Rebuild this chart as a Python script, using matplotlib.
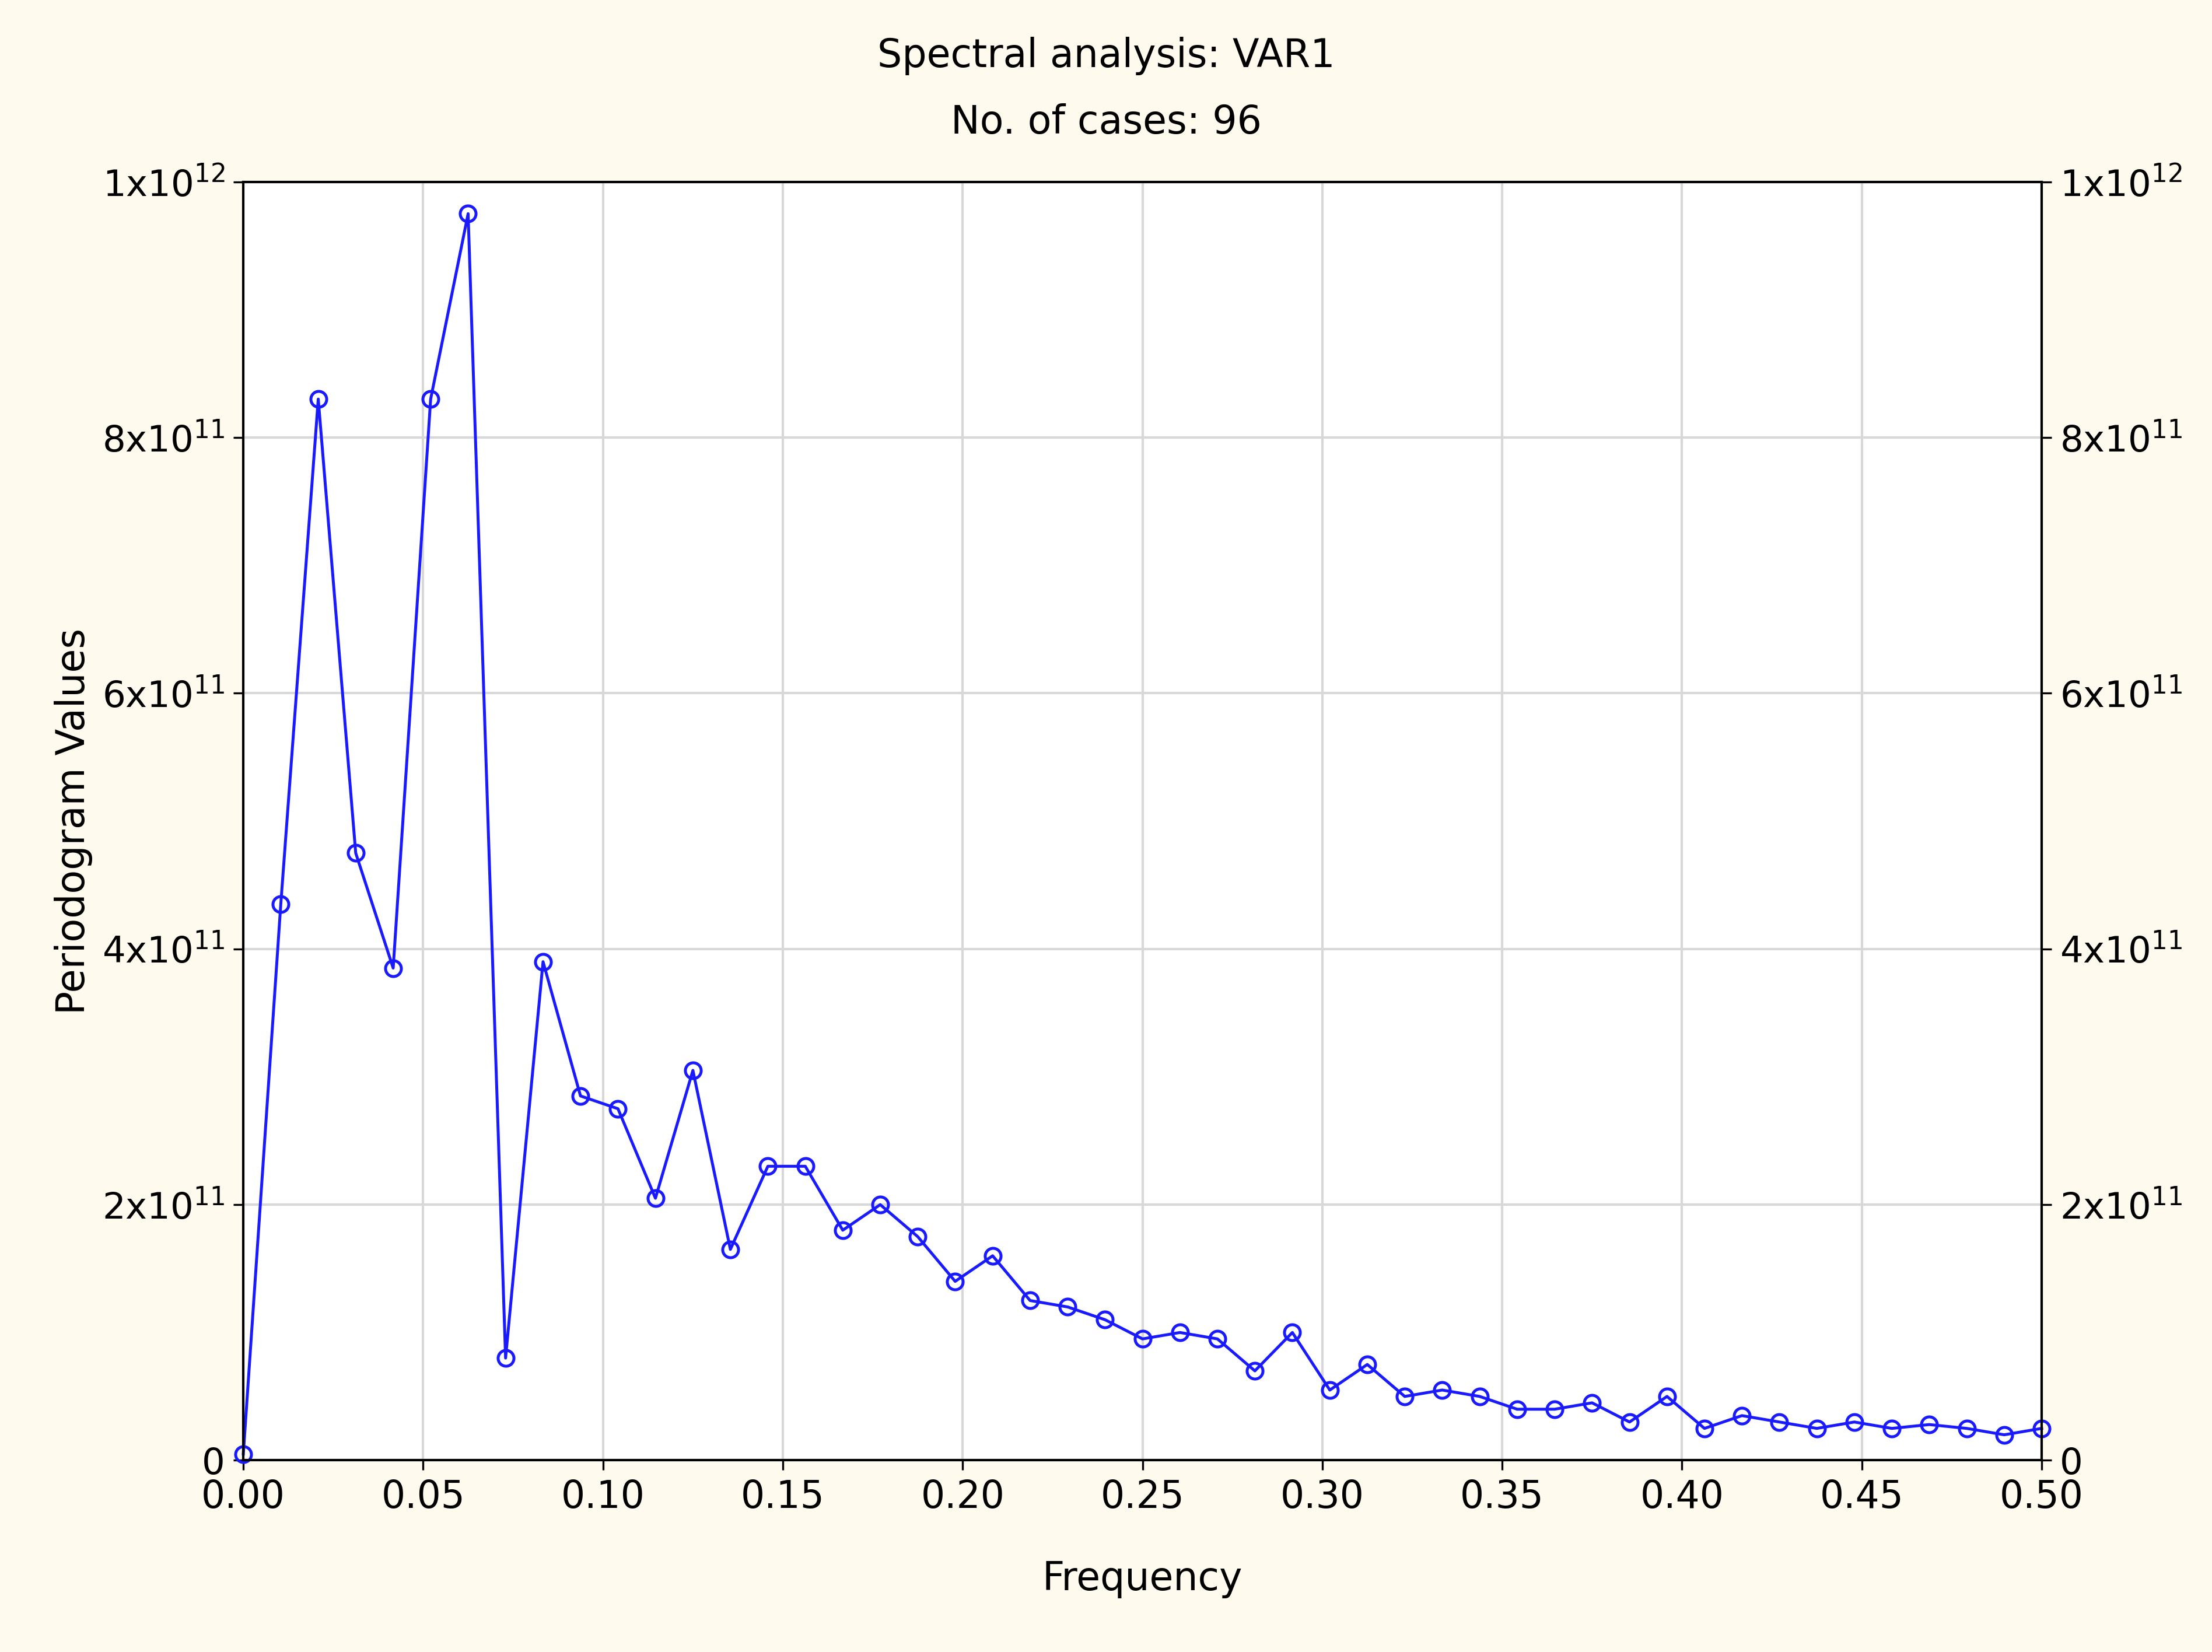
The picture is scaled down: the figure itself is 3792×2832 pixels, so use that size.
import matplotlib
matplotlib.use("Agg")
import matplotlib.pyplot as plt
import numpy as np

n_cases = 96
freq = np.arange(0, 49) / n_cases
periodogram_e11 = [0.05, 4.35, 8.3, 4.75, 3.85, 8.3, 9.75, 0.8, 3.9, 2.85, 2.75, 2.05,
                   3.05, 1.65, 2.3, 2.3, 1.8, 2.0, 1.75, 1.4, 1.6, 1.25, 1.2, 1.1,
                   0.95, 1.0, 0.95, 0.7, 1.0, 0.55, 0.75, 0.5, 0.55, 0.5, 0.4, 0.4,
                   0.45, 0.3, 0.5, 0.25, 0.35, 0.3, 0.25, 0.3, 0.25, 0.28, 0.25, 0.2, 0.25]
values = np.array(periodogram_e11) * 1e11
yticks = [0, 2e11, 4e11, 6e11, 8e11, 1e12]
ylabels = ['0', r'2x10$^{11}$', r'4x10$^{11}$', r'6x10$^{11}$', r'8x10$^{11}$', r'1x10$^{12}$']
xticks = np.arange(0, 0.501, 0.05)

bg = '#fffaee'
fig = plt.figure(figsize=(12.64, 9.44), dpi=300, facecolor=bg)
ax = fig.add_axes([0.110, 0.116, 0.813, 0.774])
ax.set_facecolor('white')
ax.plot(freq, values, color='#1a1aff', lw=1.2, marker='o', ms=6.5, mfc='none', mec='#1a1aff', mew=1.2, clip_on=False)
ax.set_xlim(0, 0.5)
ax.set_ylim(0, 1e12)
ax.set_xticks(xticks)
ax.set_xticklabels([f'{t:.2f}' for t in xticks], fontsize=15.5)
ax.set_yticks(yticks)
ax.set_yticklabels(ylabels, fontsize=15)
ax.tick_params(right=True, labelright=True, direction='out', length=4)
ax.grid(True, color='#d8d8d8', lw=1)
ax.set_axisbelow(True)
for s in ax.spines.values():
    s.set_color('black'); s.set_linewidth(1)
ax.set_xlabel('Frequency', fontsize=16, labelpad=18)
ax.set_ylabel('Periodogram Values', fontsize=16, labelpad=4)
fig.text(0.5, 0.966, 'Spectral analysis: VAR1', ha='center', va='center', fontsize=16)
fig.text(0.5, 0.926, 'No. of cases: 96', ha='center', va='center', fontsize=16)
fig.savefig('out.png', dpi=300, facecolor=bg)
